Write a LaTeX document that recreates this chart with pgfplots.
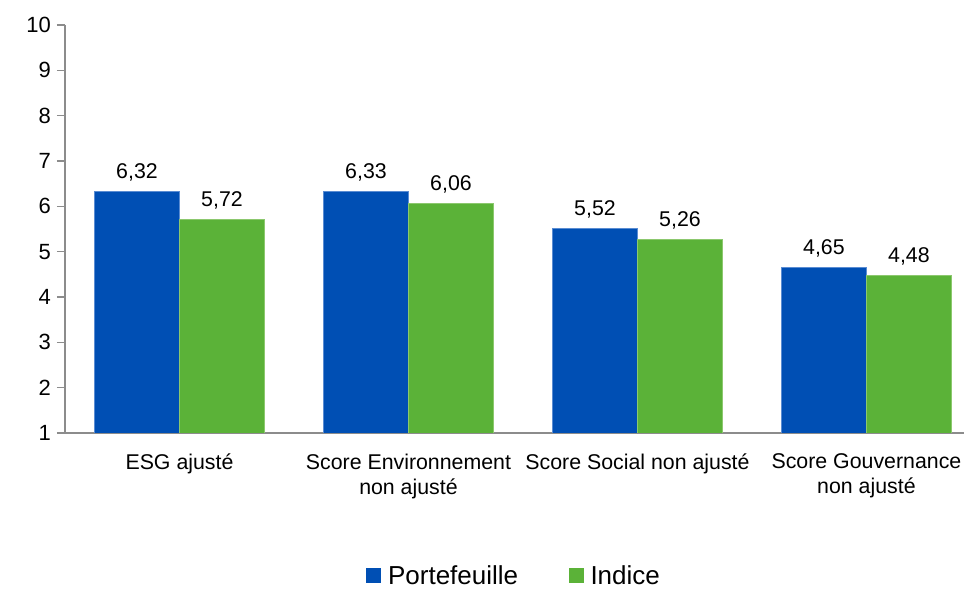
\documentclass[border=0pt]{standalone}
\usepackage{pgfplots}
\pgfplotsset{compat=1.18}
\usepackage{fontspec}
\setmainfont{Liberation Sans}
\definecolor{pblue}{RGB}{0,79,180}
\definecolor{pblueedge}{RGB}{90,140,210}
\definecolor{pgreen}{RGB}{91,178,56}
\definecolor{pgreenedge}{RGB}{140,200,110}
\definecolor{axgray}{RGB}{140,140,140}
\begin{document}
\begin{tikzpicture}
\begin{axis}[
  name=ax,
  scale only axis,
  width=674.25pt, height=306pt,
  ybar=0pt, bar width=63.75pt,
  ymin=1, ymax=10, ytick={1,2,...,10},
  xmin=-0.5, xmax=3.426,
  xtick={0,1,2,3},
  xticklabels={ESG ajusté,{Score Environnement\\non ajusté},{Score Social non ajusté},{Score Gouvernance\\non ajusté}},
  xticklabel style={align=center, font=\fontsize{16}{19}\selectfont, yshift=-6pt},
  x tick style={draw=none},
  extra x ticks={-0.5,0.5,1.5,2.5},
  extra x tick labels={},
  extra x tick style={tick style={draw=axgray, line width=0.8pt}},
  major tick length=6pt,
  axis lines=left,
  axis line style={draw=axgray, line width=0.8pt, -},
  y tick style={draw=axgray, line width=0.8pt},
  tick align=outside,
  yticklabel style={font=\fontsize{16.5}{19}\selectfont, xshift=-1pt},
  /pgf/number format/assume math mode=true,
  /pgf/number format/.cd, use comma, fixed, fixed zerofill, precision=2, 1000 sep={},
  /pgfplots/.cd,
  yticklabel={\pgfmathprintnumber[fixed, precision=0, fixed zerofill=false]{\tick}},
  nodes near coords,
  nodes near coords style={font=\fontsize{16}{19}\selectfont, yshift=4pt, /pgf/number format/precision=2, /pgf/number format/fixed zerofill},
  legend columns=2,
  legend style={at={(0.5,0)}, anchor=center, yshift=-107pt, draw=none, fill=none,
    font=\fontsize{19.5}{23}\selectfont, /tikz/every even column/.append style={column sep=36pt}},
  legend image code/.code={\fill[#1,draw=none] (0pt,-5.5pt) rectangle (11pt,5.5pt);},
]
\addplot[fill=pblue, draw=pblueedge, line width=0.6pt] coordinates {(0,6.32) (1,6.33) (2,5.52) (3,4.65)};
\addplot[fill=pgreen, draw=pgreenedge, line width=0.6pt] coordinates {(0,5.72) (1,6.06) (2,5.26) (3,4.48)};
\legend{\,Portefeuille,\,Indice}
\end{axis}
\pgfresetboundingbox
\path[use as bounding box] ([shift={(-48.75pt,-120.75pt)}]ax.south west) rectangle ([shift={(0pt,18.75pt)}]ax.north east);
\end{tikzpicture}
\end{document}
